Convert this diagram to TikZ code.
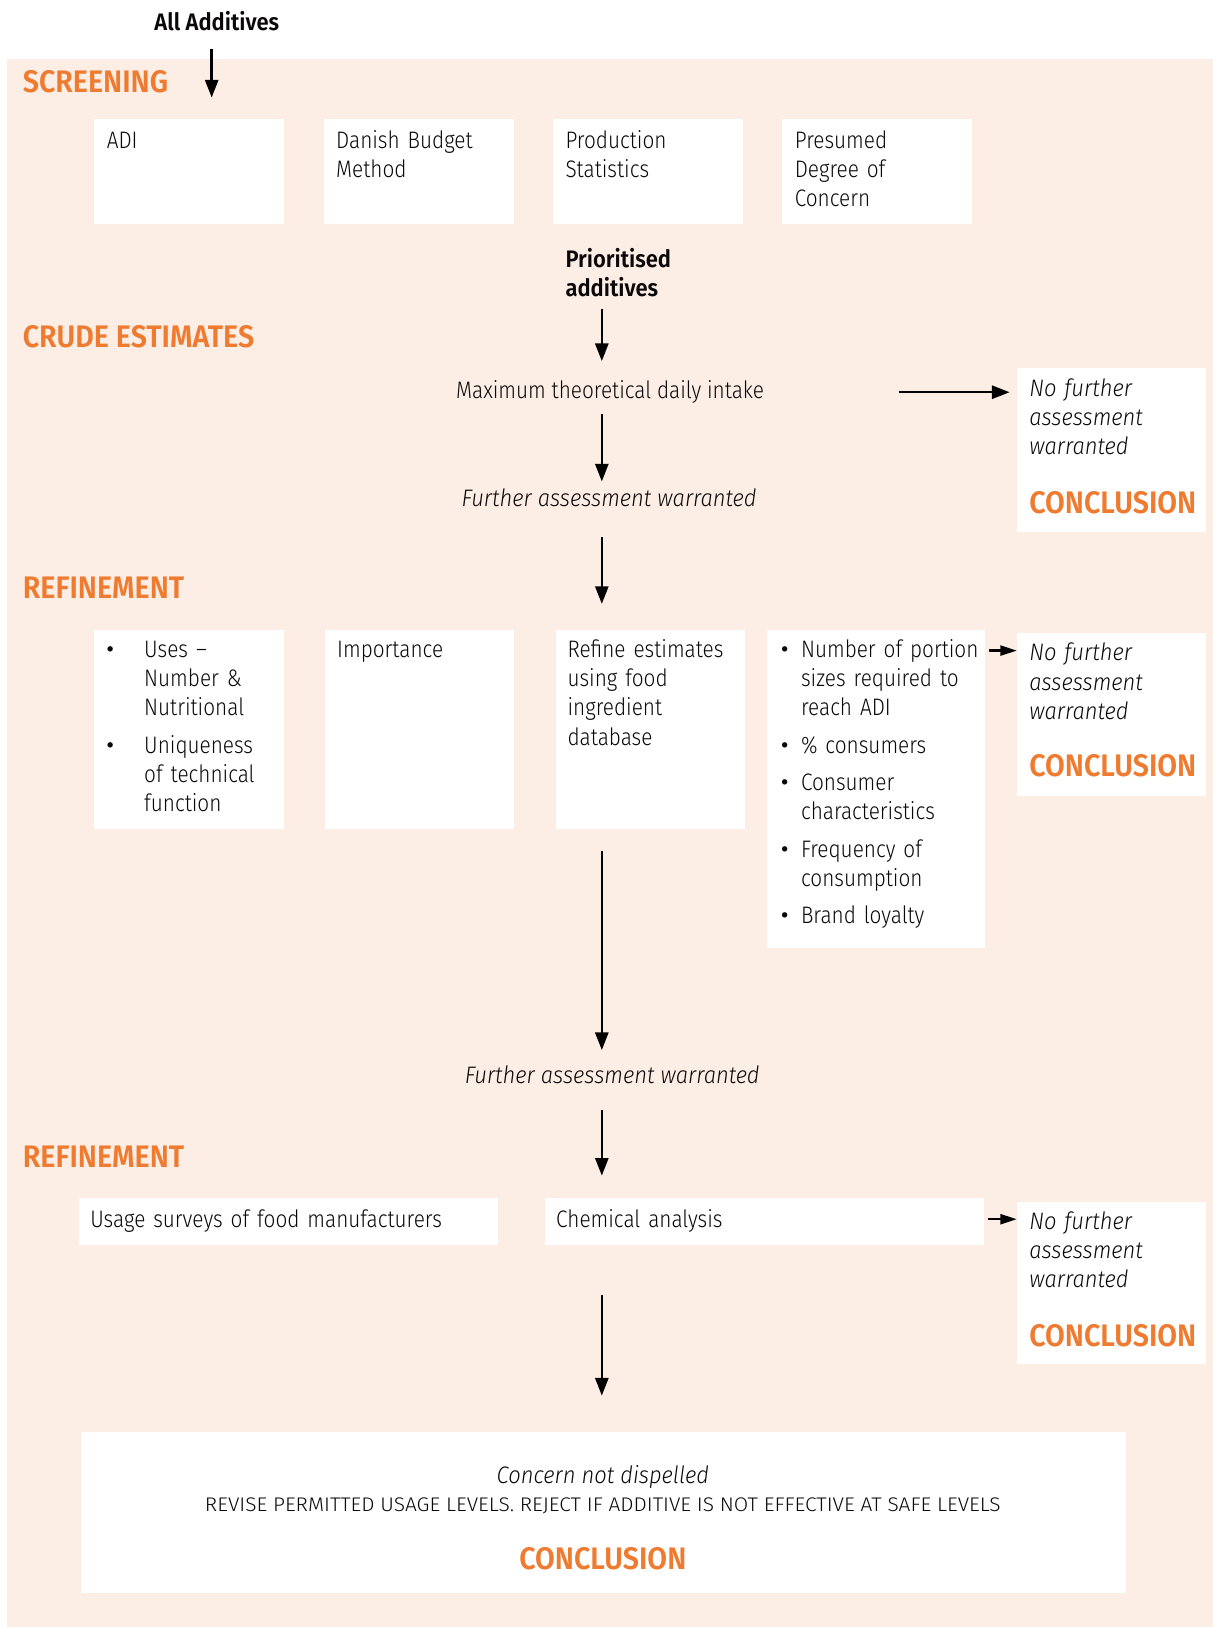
\documentclass[tikz,border=0pt]{standalone}
\usepackage{fontspec}
\setmainfont{Fira Sans}[UprightFont={* Light}, ItalicFont={* Light Italic},
  UprightFeatures={FakeStretch=0.87}, ItalicFeatures={FakeStretch=0.92},
  BoldFeatures={FakeStretch=0.92}]
\newfontfamily\revfont{Fira Sans}[UprightFont={* Light}, FakeStretch=1.06]
\newfontfamily\bulfont{Fira Sans}
\usetikzlibrary{arrows.meta}
\definecolor{peach}{RGB}{252,237,229}
\definecolor{orng}{RGB}{238,123,48}
\definecolor{ink}{RGB}{10,8,8}
\newcommand\bodyf{\fontsize{11.5}{14}\selectfont}
\newcommand\headf{\fontsize{15}{17}\selectfont\bfseries}
\newcommand\smallf{\revfont\fontsize{9.5}{11}\selectfont}
\newcommand\bul[1]{\leavevmode\llap{{\bulfont\textbullet}\hspace{#1}}}
\begin{document}
\begin{tikzpicture}[x=0.5pt,y=-0.5pt,
  every node/.style={inner sep=0pt, outer sep=0pt, text=ink},
  wbox/.style={fill=white, anchor=north west},
  txt/.style={anchor=base west, font=\bodyf, align=left, text width=#1},
  txt/.default=100pt,
  one/.style={text height=9pt, text depth=3pt},
  head/.style={anchor=base west, font=\headf, text=orng},
  concl/.style={font=\headf, text=orng},
  arr/.style={-{Triangle[length=8.5pt,width=6.3pt]}, line width=1.2pt, draw=black},
  sarr/.style={-{Triangle[length=8pt,width=4.8pt]}, line width=1.2pt, draw=black}]
\useasboundingbox (0,0) rectangle (1169,1568);
\fill[peach] (7,57) rectangle (1169,1568);
\coordinate (spine) at (580,0);
\coordinate (scrIn) at (204,94);
\coordinate (mtdiOut) at (866,0);

% top
\node[font=\bodyf\bfseries, anchor=base, one] (allA) at (209,29) {All Additives};
\node[head] (hScr) at (22,89) {SCREENING};
\node[head] (hCrude) at (22,335) {CRUDE ESTIMATES};
\node[head] (hRef1) at (22,577) {REFINEMENT};
\node[head] (hRef2) at (22,1125) {REFINEMENT};

% row 1
\node[wbox, minimum width=91.5pt, minimum height=50.5pt] (adi) at (91,115) {};
\node[wbox, minimum width=91.5pt, minimum height=50.5pt] (dan) at (312,115) {};
\node[wbox, minimum width=91.5pt, minimum height=50.5pt] (prod) at (533,115) {};
\node[wbox, minimum width=91.5pt, minimum height=50.5pt] (pres) at (754,115) {};
\node[txt] at ([shift={(12,28)}]adi.north west) {ADI};
\node[txt] at ([shift={(12,28)}]dan.north west) {Danish Budget\\Method};
\node[txt] at ([shift={(12,28)}]prod.north west) {Production\\Statistics};
\node[txt] at ([shift={(12,28)}]pres.north west) {Presumed\\Degree of\\Concern};

\node[txt, font=\bodyf\bfseries] (prio) at (545,258) {Prioritised\\additives};
\node[font=\bodyf, anchor=base, one] (mtdi) at (588,384) {Maximum theoretical daily intake};
\node[font=\bodyf\itshape, anchor=base, one] (fa1) at (587,488) {Further assessment warranted};

% conclusion 1
\node[wbox, minimum width=91pt, minimum height=79pt] (c1) at (980,355) {};
\node[txt, font=\bodyf\itshape] at ([shift={(12,27)}]c1.north west) {No further\\assessment\\warranted};
\node[concl, anchor=base west] at ([shift={(12,140)}]c1.north west) {CONCLUSION};

% row 2
\node[wbox, minimum width=91.5pt, minimum height=96pt] (uses) at (91,607) {};
\node[wbox, minimum width=91pt, minimum height=96pt] (imp) at (313,607) {};
\node[wbox, minimum width=91pt, minimum height=96pt] (refine) at (536,607) {};
\node[wbox, minimum width=105pt, minimum height=153.5pt] (list) at (739,607) {};
\node[txt] at ([shift={(48,27)}]uses.north west) {\bul{14.5pt}Uses –\\Number \&\\Nutritional\\[4pt]\bul{14.5pt}Uniqueness\\of technical\\function};
\node[txt] at ([shift={(12,27)}]imp.north west) {Importance};
\node[txt] at ([shift={(11,27)}]refine.north west) {Refine estimates\\using food\\ingredient\\database};
\node[txt] at ([shift={(33,27)}]list.north west) {\bul{6pt}Number of portion\\sizes required to\\reach ADI\\[4pt]\bul{6pt}\% consumers\\[4pt]\bul{6pt}Consumer\\characteristics\\[4pt]\bul{6pt}Frequency of\\consumption\\[4pt]\bul{6pt}Brand loyalty};

\node[wbox, minimum width=91pt, minimum height=78.5pt] (c2) at (980,610) {};
\node[txt, font=\bodyf\itshape] at ([shift={(12,27)}]c2.north west) {No further\\assessment\\warranted};
\node[concl, anchor=base west] at ([shift={(12,138)}]c2.north west) {CONCLUSION};

\node[font=\bodyf\itshape, anchor=base, one] (fa2) at (590,1044) {Further assessment warranted};

% row 3
\node[wbox, minimum width=202pt, minimum height=22.5pt] (usage) at (76,1155) {};
\node[wbox, minimum width=211.5pt, minimum height=22.5pt] (chem) at (525,1155) {};
\node[txt, text width=200pt] at ([shift={(11,28)}]usage.north west) {Usage surveys of food manufacturers};
\node[txt, text width=200pt] at ([shift={(11,28)}]chem.north west) {Chemical analysis};

\node[wbox, minimum width=91pt, minimum height=78.5pt] (c3) at (980,1158) {};
\node[txt, font=\bodyf\itshape] at ([shift={(12,27)}]c3.north west) {No further\\assessment\\warranted};
\node[concl, anchor=base west] at ([shift={(12,140)}]c3.north west) {CONCLUSION};

% bottom
\node[wbox, minimum width=503.5pt, minimum height=77.5pt] (bot) at (78,1380) {};
\node[font=\bodyf\itshape, anchor=base] at (581,1430) {Concern not dispelled};
\node[font=\smallf, anchor=base] at (581,1457) {REVISE PERMITTED USAGE LEVELS. REJECT IF ADDITIVE IS NOT EFFECTIVE AT SAFE LEVELS};
\node[concl, anchor=base] at (581,1513) {CONCLUSION};

% arrows
\draw[arr, shorten <=6pt] (allA.south -| scrIn) -- (scrIn);
\draw[arr, shorten <=5.5pt, shorten >=9pt] (prio.south -| spine) -- (mtdi.north -| spine);
\draw[arr, shorten <=4.5pt, shorten >=3pt] (mtdi.south -| spine) -- (fa1.north -| spine);
\draw[arr, shorten >=3.5pt] (mtdi -| mtdiOut) -- (mtdi -| c1.west);
\draw[arr, shorten <=12pt, shorten >=12.5pt] (fa1.south -| spine) -- (refine.north -| spine);
\draw[arr, shorten <=10.5pt, shorten >=7pt] (refine.south -| spine) -- (fa2.north -| spine);
\draw[arr, shorten <=10pt, shorten >=11pt] (fa2.south -| spine) -- (chem.north -| spine);
\draw[arr, shorten <=24pt, shorten >=17.5pt] (chem.south -| spine) -- (bot.north -| spine);
\coordinate (l2) at ([yshift=-10pt]list.north east);
\coordinate (l3) at ([yshift=-10pt]chem.north east);
\draw[sarr, shorten <=2pt] (l2) -- (l2 -| c2.west);
\draw[sarr, shorten <=2pt] (l3) -- (l3 -| c3.west);
\end{tikzpicture}
\end{document}
